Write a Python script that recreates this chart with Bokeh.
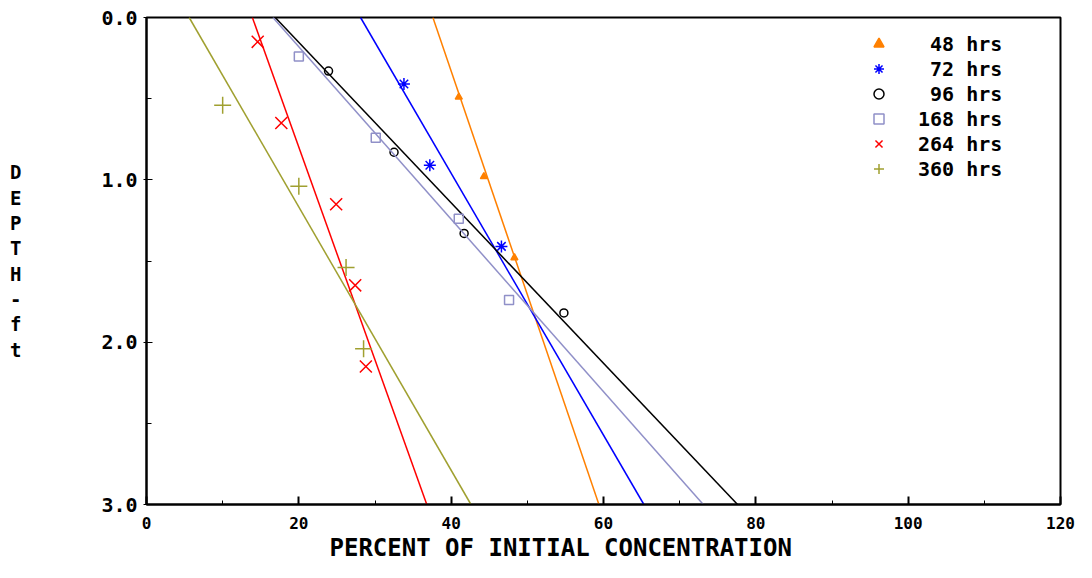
from bokeh.plotting import figure
from bokeh.models import Range1d, SingleIntervalTicker, PrintfTickFormatter, Legend, LegendItem, Title
from bokeh.embed import file_html
from bokeh.resources import INLINE

# ---- data ----
series_names = [" 48 hrs", " 72 hrs", " 96 hrs", "168 hrs", "264 hrs", "360 hrs"]

pct_48 = [41.0, 44.3, 48.3]
dep_48 = [0.49, 0.98, 1.48]
pct_72 = [33.8, 37.2, 46.6]
dep_72 = [0.41, 0.91, 1.41]
pct_96 = [23.9, 32.5, 41.7, 54.8]
dep_96 = [0.33, 0.83, 1.33, 1.82]
pct_168 = [20.0, 30.1, 41.0, 47.6]
dep_168 = [0.24, 0.74, 1.24, 1.74]
pct_264 = [14.6, 17.7, 24.9, 27.4, 28.8]
dep_264 = [0.15, 0.65, 1.15, 1.65, 2.15]
pct_360 = [10.0, 20.0, 26.2, 28.5]
dep_360 = [0.54, 1.04, 1.54, 2.04]

# fitted lines: percent at depth 0 and depth 3
fit_depth = [0.0, 3.0]
fit_48 = [37.6, 59.4]
fit_72 = [28.1, 65.3]
fit_96 = [16.9, 77.6]
fit_168 = [16.6, 73.1]
fit_264 = [13.9, 36.8]
fit_360 = [5.6, 42.6]

x_title = "PERCENT OF INITIAL CONCENTRATION"
y_title = "D\nE\nP\nT\nH\n-\nf\nt"

colors = ["#ff8000", "#0000ff", "#000000", "#9090c8", "#ff0000", "#a0a030"]
markers = ["triangle", "asterisk", "circle", "square", "x", "cross"]
sizes = [7, 12, 8, 9, 17, 17]
fills = [True, False, False, False, False, False]

pcts = [pct_48, pct_72, pct_96, pct_168, pct_264, pct_360]
deps = [dep_48, dep_72, dep_96, dep_168, dep_264, dep_360]
fits = [fit_48, fit_72, fit_96, fit_168, fit_264, fit_360]

p = figure(width=1076, height=562, output_backend="svg", toolbar_location=None,
           x_range=Range1d(0, 120), y_range=Range1d(3, 0),
           min_border_left=146, min_border_right=16, min_border_top=17, min_border_bottom=58)
p.background_fill_color = "white"
p.border_fill_color = "white"
p.outline_line_color = "black"
p.outline_line_width = 2
p.xgrid.visible = False
p.ygrid.visible = False

mono = "DejaVu Sans Mono"

# x axis
p.xaxis.ticker = SingleIntervalTicker(interval=20, num_minor_ticks=2)
p.xaxis.axis_line_width = 2
p.xaxis.major_tick_in = 8
p.xaxis.major_tick_out = 0
p.xaxis.minor_tick_in = 4
p.xaxis.minor_tick_out = 0
p.xaxis.major_tick_line_width = 2
p.xaxis.major_label_standoff = 12
p.xaxis.major_label_text_font = mono
p.xaxis.major_label_text_font_style = "bold"
p.xaxis.major_label_text_font_size = "16px"
p.xaxis.major_label_text_color = "black"

# x axis title, left of centre as in the reference
p.add_layout(Title(text=x_title, align="left", offset=183, standoff=0,
                   text_font=mono, text_font_style="bold", text_font_size="24px",
                   text_color="black"), "below")

# y axis
p.yaxis.ticker = SingleIntervalTicker(interval=1, num_minor_ticks=2)
p.yaxis.formatter = PrintfTickFormatter(format="%.1f")
p.yaxis.axis_line_width = 2
p.yaxis.major_tick_in = 6
p.yaxis.major_tick_out = 3
p.yaxis.minor_tick_in = 5
p.yaxis.minor_tick_out = 0
p.yaxis.major_label_standoff = 6
p.yaxis.major_label_text_font = mono
p.yaxis.major_label_text_font_style = "bold"
p.yaxis.major_label_text_font_size = "20px"
p.yaxis.major_label_text_color = "black"
p.yaxis.axis_label = y_title
p.yaxis.axis_label_orientation = "horizontal"
p.yaxis.axis_label_text_font = mono
p.yaxis.axis_label_text_font_style = "bold"
p.yaxis.axis_label_text_font_size = "19px"
p.yaxis.axis_label_text_line_height = 1.15
p.yaxis.axis_label_standoff = 77
p.yaxis.axis_label_text_color = "black"

items = []
for name, c, m, s, f, px, dy, fx in zip(series_names, colors, markers, sizes, fills, pcts, deps, fits):
    p.line(fx, fit_depth, line_color=c, line_width=1.5)
    r = p.scatter(px, dy, marker=m, size=s, line_color=c, line_width=1.5,
                  fill_color=c if f else None)
    items.append(LegendItem(label=name, renderers=[r]))

legend = Legend(items=items, location=(720, 323), orientation="vertical",
                border_line_color=None, background_fill_alpha=0,
                padding=0, spacing=0, glyph_width=25, glyph_height=25,
                label_height=25, label_standoff=27,
                label_text_font=mono, label_text_font_style="bold",
                label_text_font_size="20px", label_text_color="black")
p.add_layout(legend, "center")

open("out.html", "w").write(file_html(p, INLINE))
